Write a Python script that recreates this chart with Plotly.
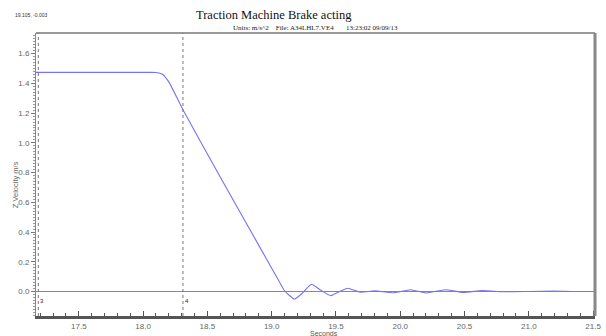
import plotly.graph_objects as go

# data
t_sec = [17.167, 18.05, 18.10, 18.15, 18.20, 18.31, 18.60, 18.92, 19.05, 19.10,
         19.177, 19.24, 19.31, 19.38, 19.46, 19.53, 19.59, 19.69, 19.80, 19.95,
         20.08, 20.20, 20.35, 20.49, 20.64, 20.80, 21.0, 21.2, 21.35, 21.515]
z_vel = [1.474, 1.474, 1.473, 1.462, 1.41, 1.223, 0.77, 0.280, 0.08, 0.005,
         -0.051, -0.01, 0.049, 0.01, -0.028, 0.0, 0.022, -0.005, 0.004, -0.009,
         0.012, -0.01, 0.012, -0.006, 0.006, -0.002, 0.0, 0.003, 0.0, 0.0]
x_ticks = [17.5, 18.0, 18.5, 19.0, 19.5, 20.0, 20.5, 21.0, 21.5]
y_ticks = [0.0, 0.2, 0.4, 0.6, 0.8, 1.0, 1.2, 1.4, 1.6]
cursor_x = [17.185, 18.31]
cursor_lbl = ["3", "4"]

W, H = 606, 336
ML, MR, MT, MB = 36, 5, 33, 20

fig = go.Figure()
fig.add_trace(go.Scatter(x=t_sec, y=z_vel, mode="lines",
                         line=dict(color="#7474f0", width=1.1, shape="spline", smoothing=0.5),
                         hoverinfo="skip", showlegend=False))

sans = "Arial, Liberation Sans, sans-serif"
tick_font = dict(family=sans, size=8, color="#666666")

fig.update_layout(
    width=W, height=H,
    margin=dict(l=ML, r=MR, t=MT, b=MB),
    paper_bgcolor="white", plot_bgcolor="white",
    showlegend=False,
    xaxis=dict(range=[17.167, 21.515], tickvals=x_ticks,
               ticktext=[f"{v:.1f}" for v in x_ticks],
               ticks="inside", ticklen=5, tickcolor="#555555", tickwidth=1,
               minor=dict(dtick=0.1, ticks="inside", ticklen=3, tickcolor="#555555"),
               showgrid=False, zeroline=False, showline=True,
               linecolor="#555555", linewidth=3, tickfont=tick_font,
               ticklabeloverflow="allow"),
    yaxis=dict(range=[-0.165, 1.739], tickvals=y_ticks,
               ticktext=[f"{v:.1f}" for v in y_ticks],
               ticks="outside", ticklen=4, tickcolor="#777777",
               minor=dict(dtick=0.02, ticks="outside", ticklen=2, tickcolor="#999999"),
               showgrid=False, zeroline=True, zerolinecolor="#888888", zerolinewidth=1,
               showline=True, linecolor="#888888", linewidth=1, tickfont=tick_font),
)

# frame: top and right (shadowed) borders
fig.add_shape(type="line", xref="x domain", yref="y domain", x0=0, x1=1, y0=1, y1=1,
              line=dict(color="#999999", width=2))
fig.add_shape(type="line", xref="x domain", yref="y domain", x0=1, x1=1, y0=0, y1=1,
              line=dict(color="#888888", width=3))

# cursors
for cx, lb in zip(cursor_x, cursor_lbl):
    fig.add_shape(type="line", xref="x", yref="y domain", x0=cx, x1=cx, y0=0, y1=1,
                  line=dict(color="#777777", width=1, dash="dot"))
    fig.add_annotation(x=cx, y=-0.065, xref="x", yref="y", text=lb, showarrow=False,
                       xanchor="left", yanchor="middle", xshift=0,
                       font=dict(family=sans, size=6, color="#222222"))


def px_annot(px, py, text, font, xanchor="center", angle=0):
    fig.add_annotation(x=(px - ML) / (W - ML - MR), y=(H - py - MB) / (H - MT - MB),
                       xref="paper", yref="paper", text=text, showarrow=False,
                       xanchor=xanchor, yanchor="middle", font=font, textangle=angle)


serif = "Times New Roman, Liberation Serif, serif"
px_annot(277, 15, "Traction Machine Brake acting", dict(family=serif, size=12.5, color="#111111"))
px_annot(319, 28, "Units: m/s^2&nbsp;&nbsp;&nbsp;&nbsp;File: A34LHL7.VE4&nbsp;&nbsp;&nbsp;&nbsp;&nbsp;&nbsp;&nbsp;13:23:02 09/09/13",
         dict(family=serif, size=7, color="#222222"))
px_annot(13, 15, "19.105, -0.003", dict(family=sans, size=5, color="#333333"), xanchor="left")
px_annot(327, 333, "Seconds", dict(family=sans, size=7, color="#555555"))
px_annot(15, 185, "Z Velocity m/s", dict(family=sans, size=7.5, color="#666666"), angle=-90)

fig.write_html("out.html")
